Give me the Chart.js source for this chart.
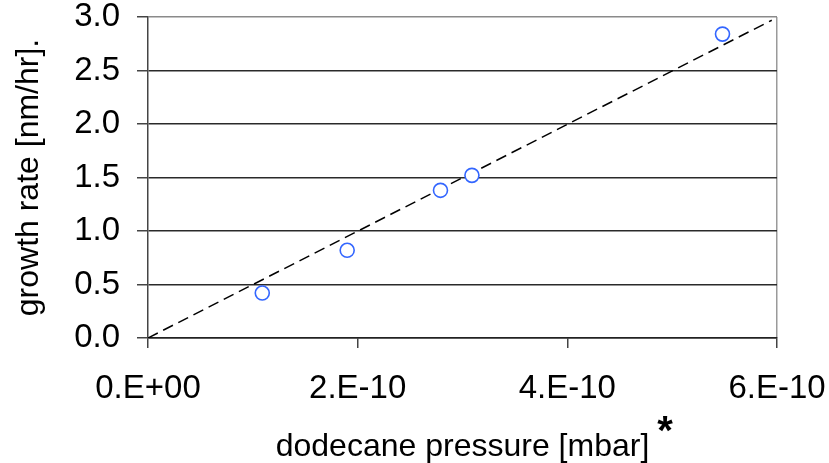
<!DOCTYPE html>
<html>
<head>
<meta charset="utf-8">
<script src="https://cdn.jsdelivr.net/npm/chart.js@4"></script>
<style>
  html, body { margin: 0; padding: 0; background: #fff; }
  #wrap { width: 829px; height: 463px; position: relative; }
</style>
</head>
<body>
<div id="wrap"><canvas id="c" width="829" height="463"></canvas></div>
<script>
// Data
const pressure = [1.09e-10, 1.90e-10, 2.79e-10, 3.09e-10, 5.48e-10];   // mbar
const growthRate = [0.42, 0.82, 1.38, 1.52, 2.84];                       // nm/hr
const fitX = [0, 5.95e-10];
const fitY = [0, 2.97];
const xTickValues = [0, 2e-10, 4e-10, 6e-10];
const xTickLabels = ['0.E+00', '2.E-10', '4.E-10', '6.E-10'];
const yTickValues = [0, 0.5, 1.0, 1.5, 2.0, 2.5, 3.0];
const yTickLabels = ['0.0', '0.5', '1.0', '1.5', '2.0', '2.5', '3.0'];
const xTitle = 'dodecane pressure [mbar]';
const yTitle = 'growth rate [nm/hr].';

const FONT = 'Liberation Sans, Arial, sans-serif';
const FS = 33;
const TFS = 32;

const asteriskPlugin = {
  id: 'asterisk',
  afterDraw(chart) {
    const ctx = chart.ctx;
    const area = chart.chartArea;
    ctx.save();
    ctx.font = TFS + 'px ' + FONT;
    const w = ctx.measureText(xTitle).width;
    const cx = (area.left + area.right) / 2;
    ctx.font = 'bold 40px ' + FONT;
    ctx.fillStyle = '#000';
    ctx.textBaseline = 'top';
    ctx.textAlign = 'left';
    ctx.fillText('*', cx + w / 2 + 8, 413);
    ctx.restore();
  }
};

new Chart(document.getElementById('c'), {
  type: 'scatter',
  data: {
    datasets: [
      {
        label: 'fit',
        data: fitX.map((x, i) => ({ x: x, y: fitY[i] })),
        showLine: true,
        borderColor: '#000',
        borderWidth: 1.5,
        borderDash: [11, 6],
        pointRadius: 0,
        fill: false,
        order: 2
      },
      {
        label: 'data',
        data: pressure.map((x, i) => ({ x: x, y: growthRate[i] })),
        showLine: false,
        pointStyle: 'circle',
        pointRadius: 7,
        pointBorderWidth: 1.6,
        pointBorderColor: '#3366ff',
        pointBackgroundColor: '#ffffff',
        order: 1
      }
    ]
  },
  options: {
    responsive: false,
    animation: false,
    events: [],
    layout: { padding: { top: 17, right: 52, left: 0, bottom: 0 } },
    plugins: { legend: { display: false }, tooltip: { enabled: false } },
    scales: {
      x: {
        type: 'linear',
        min: 0,
        max: 6e-10,
        afterBuildTicks(scale) { scale.ticks = xTickValues.map(v => ({ value: v })); },
        afterFit(scale) { scale.height = 125; scale.paddingLeft = 0; scale.paddingRight = 0; },
        ticks: {
          callback: (v, i) => xTickLabels[i],
          font: { family: FONT, size: FS, lineHeight: 1 },
          color: '#000',
          padding: 24,
          maxRotation: 0,
          autoSkip: false
        },
        grid: {
          drawOnChartArea: true,
          color: (c) => (c.tick && c.tick.value === 6e-10) ? '#9a9a9a' : 'rgba(0,0,0,0)',
          tickColor: '#444',
          tickLength: 10,
          lineWidth: 1.5
        },
        border: { display: true, color: '#222', width: 1.5 },
        title: {
          display: true,
          text: xTitle,
          font: { family: FONT, size: TFS, lineHeight: 1 },
          color: '#000',
          padding: { top: 25, bottom: 0 }
        }
      },
      y: {
        min: 0,
        max: 3,
        afterBuildTicks(scale) { scale.ticks = yTickValues.map(v => ({ value: v })); },
        afterFit(scale) { scale.width = 148; scale.paddingTop = 0; scale.paddingBottom = 0; },
        ticks: {
          callback: (v, i) => yTickLabels[i],
          font: { family: FONT, size: FS, lineHeight: 1 },
          color: '#000',
          padding: 17
        },
        grid: {
          color: (c) => (c.tick && c.tick.value === 3) ? '#8a8a8a' : '#2a2a2a',
          tickColor: '#444',
          tickLength: 11,
          lineWidth: 1.5
        },
        border: { display: true, color: '#444', width: 1.5 },
        title: {
          display: true,
          text: yTitle,
          font: { family: FONT, size: TFS, lineHeight: 1 },
          color: '#000',
          padding: { top: 13, bottom: 0 }
        }
      }
    }
  },
  plugins: [asteriskPlugin]
});
</script>
</body>
</html>
